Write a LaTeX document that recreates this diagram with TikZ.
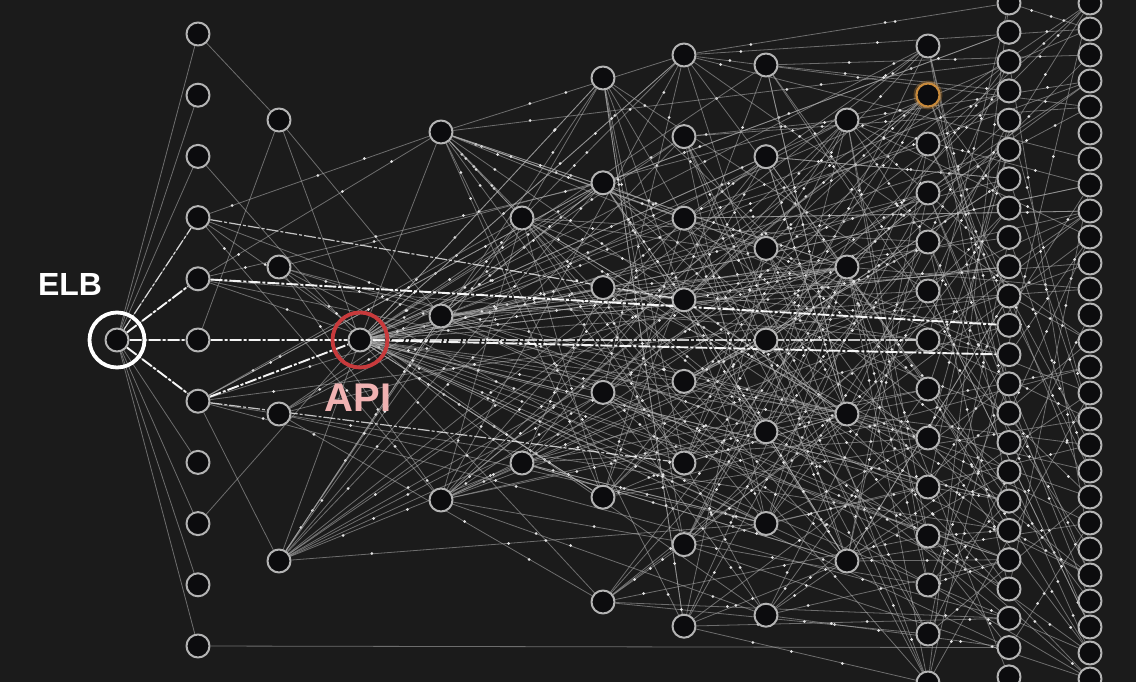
\documentclass[tikz,border=0pt]{standalone}
\usepackage{fontspec}
\setmainfont{Liberation Sans}
\pgfdeclarelayer{back}
\pgfdeclarelayer{wires}
\pgfsetlayers{back,wires,main}
\definecolor{bgdark}{HTML}{1B1B1B}
\definecolor{ringgray}{HTML}{B4B4B4}
\definecolor{holefill}{HTML}{0C0C0E}
\definecolor{apired}{HTML}{C83A3C}
\definecolor{apipink}{HTML}{F0B2B2}
\definecolor{hotorange}{HTML}{C98A3A}
\tikzset{
	svc/.style={circle, draw=ringgray, fill=holefill, line width=2pt, minimum size=23pt, inner sep=0pt},
	ring/.style={circle, line width=3.8pt, minimum size=55pt, inner sep=0pt},
	link/.style={draw=white!70!black, line width=0.8pt, opacity=0.55},
	pktdot/.style={draw=white!90!black, line width=3pt, line cap=round},
	hot/.style={draw=white, line width=1.9pt, opacity=0.95, dash pattern=on 12pt off 2pt on 3pt off 2pt},
	hotsoft/.style={hot, line width=1.2pt, opacity=0.75},
}
% random calls from one service to services further right
\newcommand\spray[3]{%
	\foreach \e in {1,...,#3}{
		\pgfmathrandominteger{\tc}{#2}{11}
		\pgfmathtruncatemacro\tn{{0,11,4,3,2,6,8,7,4,14,24,27}[\tc]}
		\pgfmathrandominteger{\tk}{1}{\tn}
		\pgfmathsetmacro\pa{0.06+0.3*rnd}
		\pgfmathsetmacro\pb{0.38+0.25*rnd}
		\pgfmathsetmacro\pc{0.66+0.3*rnd}
		\path (#1) -- (l\tc-\tk) coordinate[pos=\pa] (pa) coordinate[pos=\pb] (pb) coordinate[pos=\pc] (pc);
		\draw[link] (#1) -- (l\tc-\tk);
		\draw[pktdot] (pa) -- ++(0.01,0) (pb) -- ++(0.01,0) (pc) -- ++(0.01,0);
	}}
\begin{document}
\begin{tikzpicture}[x=1pt, y=-1pt, line cap=round, line join=round]
	\useasboundingbox (0,0) rectangle (1136,682);
	\begin{pgfonlayer}{back}
		\fill[bgdark] (0,0) rectangle (1136,682);
	\end{pgfonlayer}
	
	% services, column by column
	\foreach \c/\x/\n/\ya/\dy in {1/198/11/34/61.2, 2/279/4/120/147, 3/441/3/132/184,
		4/522/2/218/245, 5/603/6/78/104.8, 6/684/8/55/81.6, 7/766/7/65/91.7,
		8/847/4/120/147, 9/928/14/46/49, 10/1009/24/3/29.3, 11/1090/27/3/26}
	\foreach \k in {1,...,\n}
	\node[svc] (l\c-\k) at (\x,{\ya+\dy*(\k-1)}) {};
	
	\node[svc] (elb) at (117,340) {};
	\node[svc] (api) at (360,340) {};
	\node[ring, draw=white] (elbring) at (elb) {};
	\node[ring, draw=apired] (apiring) at (api) {};
	\node[circle, draw=hotorange, opacity=0.35, line width=5pt, minimum size=24pt] (warmglow) at (l9-2) {};
	\node[svc, draw=hotorange] (warm) at (l9-2) {};
	
	\node[white, font=\bfseries\fontsize{32}{32}\selectfont] (elbtext) at (70,284) {ELB};
	\node[apipink, font=\bfseries\fontsize{40}{40}\selectfont] (apitext) at (358,398) {API};
	
	\begin{pgfonlayer}{wires}
		\pgfmathsetseed{42}
		% left side
		\foreach \k in {1,...,11}
		\draw[link] (elb) -- (l1-\k);
		\draw[link] (l1-1) -- (l2-1);
		\draw[link] (l2-1) -- (l3-2);
		\draw[link] (l2-1) -- (api);
		\draw[link] (l2-1) -- (l1-6);
		\draw[link] (l1-3) -- (api);
		\draw[link] (l1-9) -- (api);
		\draw[link] (api) -- (l2-4);
		\draw[link] (api) -- (l3-1);
		\draw[link] (l1-7) -- (l2-4);
		\draw[link] (l1-7) -- (l2-3);
		\draw[link] (l1-11) -- (l10-23);
		\draw[link] (l2-3) -- (l7-6);
		\draw[link] (l4-1) -- (l5-1);
		\spray{l1-4}{3}{4}
		\spray{l1-5}{3}{5}
		\spray{l1-7}{3}{6}
		\spray{l2-2}{3}{6}
		\spray{l2-3}{3}{6}
		\spray{l2-4}{3}{14}
		% the middle and the right
		\spray{api}{5}{40}
		\foreach \k in {1,...,3} {\spray{l3-\k}{4}{15}}
		\foreach \k in {1,...,2} {\spray{l4-\k}{5}{11}}
		\foreach \k in {1,...,6} {\spray{l5-\k}{6}{8}}
		\foreach \k in {1,...,8} {\spray{l6-\k}{7}{7}}
		\foreach \k in {1,...,7} {\spray{l7-\k}{8}{6}}
		\foreach \k in {1,...,4} {\spray{l8-\k}{9}{7}}
		\foreach \k in {1,...,14} {\spray{l9-\k}{10}{3}}
		\foreach \k in {1,3,...,23} {\spray{l10-\k}{11}{1}}
		% busy paths
		\draw[hot] (elb) -- (l1-6);
		\draw[hot] (elb) -- (l1-5);
		\draw[hot] (elb) -- (l1-7);
		\draw[hotsoft] (elb) -- (l1-4);
		\draw[hot] (l1-6) -- (api);
		\draw[hot] (l1-7) -- (api);
		\draw[hot] (l1-5) -- (l10-12);
		\draw[hot] (api) -- (l10-13);
		\draw[hotsoft] (api) -- (l9-7);
		\draw[hotsoft] (l1-4) -- (l6-4);
		\draw[hotsoft] (l1-7) -- (l6-6);
	\end{pgfonlayer}
\end{tikzpicture}
\end{document}
